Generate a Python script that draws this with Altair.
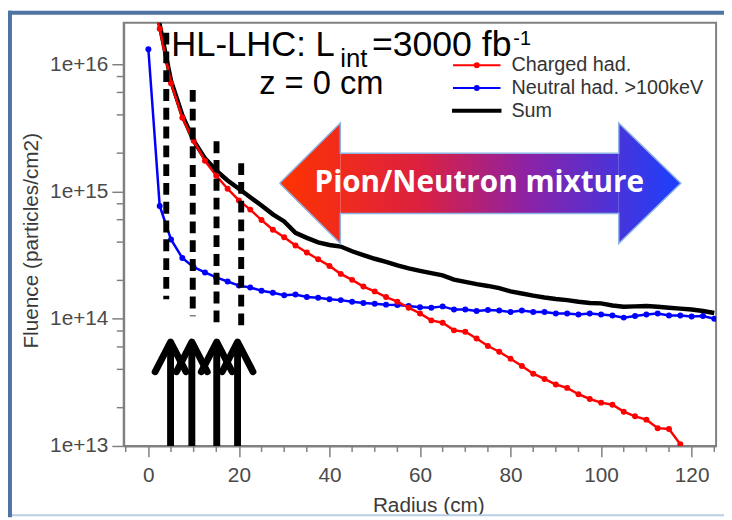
import altair as alt
import pandas as pd

# ---------------- data ----------------
radius = [0, 2.5, 5, 7.5, 10, 12.5, 15, 17.5, 20, 22.5,
          25, 27.5, 30, 32.5, 35, 37.5, 40, 42.5, 45, 47.5,
          50, 52.5, 55, 57.5, 60, 62.5, 65, 67.5, 70, 72.5,
          75, 77.5, 80, 82.5, 85, 87.5, 90, 92.5, 95, 97.5,
          100, 102.5, 105, 107.5, 110, 112.5, 115, 117.5, 120, 122.5, 125]

charged = [4.5e16, 1.9e16, 7.1e15, 3.8e15, 2.5e15, 1.74e15, 1.33e15, 1.05e15, 8.5e14, 7.2e14,
           5.96e14, 5.0e14, 4.37e14, 3.76e14, 3.31e14, 2.93e14, 2.6e14, 2.25e14, 2.02e14, 1.79e14,
           1.64e14, 1.48e14, 1.36e14, 1.22e14, 1.10e14, 9.7e13, 9.3e13, 8.1e13, 7.9e13, 7.0e13,
           6.1e13, 5.5e13, 4.84e13, 4.25e13, 3.7e13, 3.36e13, 3.04e13, 2.86e13, 2.55e13, 2.34e13,
           2.19e13, 2.11e13, 1.86e13, 1.71e13, 1.61e13, 1.38e13, 1.36e13, 1.03e13, 6.0e12, 4.0e12,
           3.0e12]

neutral = [1.31e16, 7.7e14, 4.2e14, 3.0e14, 2.54e14, 2.31e14, 2.11e14, 1.96e14, 1.82e14, 1.76e14,
           1.66e14, 1.60e14, 1.53e14, 1.55e14, 1.48e14, 1.46e14, 1.42e14, 1.40e14, 1.36e14, 1.33e14,
           1.31e14, 1.29e14, 1.28e14, 1.26e14, 1.23e14, 1.22e14, 1.25e14, 1.18e14, 1.18e14, 1.15e14,
           1.17e14, 1.16e14, 1.13e14, 1.16e14, 1.13e14, 1.13e14, 1.10e14, 1.10e14, 1.08e14, 1.10e14,
           1.08e14, 1.06e14, 1.02e14, 1.05e14, 1.08e14, 1.10e14, 1.06e14, 1.06e14, 1.04e14, 1.05e14,
           1.0e14]

total = [5.25e16, 2.04e16, 7.41e15, 3.98e15, 2.51e15, 1.82e15, 1.46e15, 1.22e15, 1.05e15, 9.02e14,
         7.76e14, 6.61e14, 5.82e14, 4.73e14, 4.32e14, 3.98e14, 3.80e14, 3.69e14, 3.39e14, 3.16e14,
         2.96e14, 2.80e14, 2.63e14, 2.49e14, 2.38e14, 2.28e14, 2.19e14, 2.03e14, 1.95e14, 1.87e14,
         1.81e14, 1.74e14, 1.64e14, 1.58e14, 1.52e14, 1.47e14, 1.43e14, 1.40e14, 1.36e14, 1.33e14,
         1.32e14, 1.27e14, 1.24e14, 1.25e14, 1.26e14, 1.24e14, 1.22e14, 1.20e14, 1.18e14, 1.15e14,
         1.11e14]

series_names = ["Charged had.", "Neutral had. >100keV", "Sum"]
series_colors = ["#ff0000", "#0000ff", "#000000"]
legend_shapes = ["M-2.4,0H2.4M-0.2,0A0.2,0.2,0,1,0,0.2,0A0.2,0.2,0,1,0,-0.2,0",
                 "M-2.4,0H2.4M-0.2,0A0.2,0.2,0,1,0,0.2,0A0.2,0.2,0,1,0,-0.2,0",
                 "M-2.4,-0.1H2.4V0.1H-2.4Z"]

x_ticks_major = [0, 20, 40, 60, 80, 100, 120]
x_ticks_minor = [-5, 5, 10, 15, 25, 30, 35, 45, 50, 55, 65, 70, 75,
                 85, 90, 95, 105, 110, 115, 125]
y_ticks_major = [1e13, 1e14, 1e15, 1e16]
y_ticks_minor = [2e13, 4e13, 6e13, 8e13, 2e14, 4e14, 6e14, 8e14,
                 2e15, 4e15, 6e15, 8e15]

# dashed vertical markers
dash_x = [3.95, 9.8, 15.05, 20.5]
dash_top = [1.77e16, 6.28e15, 2.48e15, 1.67e15]
dash_bottom = [1.42e14, 1.045e14, 8.9e13, 8.9e13]

# upward arrows
up_x = [4.9, 9.6, 15.1, 19.7]
up_tip = 6.56e13
up_wing = 3.83e13
up_half = 3.4
up_base = 1e13

# big double arrow (tip, head base, shaft)
band_tip_x = [29.0, 117.6]
band_head_x = [42.4, 103.9]
band_center = 1.16e15
band_head_top = 3.45e15
band_head_bottom = 3.9e14
band_shaft_top = 2.0e15
band_shaft_bottom = 6.7e14
band_text = "Pion/Neutron mixture"
band_text_x = [73.1]
band_text_y = [1.16e15]

# ---------------- tables ----------------
def series_df(vals):
    return pd.DataFrame({"radius": radius, "fluence": vals})

dash_df = pd.DataFrame({"radius": dash_x, "fluence": dash_top, "fluence2": dash_bottom})
shaft_df = pd.DataFrame({"radius": up_x, "fluence": [up_tip] * 4, "fluence2": [up_base] * 4})
head_rows = []
for i, x in enumerate(up_x):
    head_rows += [{"id": i, "k": 0, "radius": x - up_half, "fluence": up_wing},
                  {"id": i, "k": 1, "radius": x, "fluence": up_tip},
                  {"id": i, "k": 2, "radius": x + up_half, "fluence": up_wing}]
head_df = pd.DataFrame(head_rows)

lhead_df = pd.DataFrame({"radius": [band_tip_x[0], band_head_x[0]],
                         "fluence": [band_center, band_head_top],
                         "fluence2": [band_center, band_head_bottom]})
rhead_df = pd.DataFrame({"radius": [band_head_x[1], band_tip_x[1]],
                         "fluence": [band_head_top, band_center],
                         "fluence2": [band_head_bottom, band_center]})
shaft_band_df = pd.DataFrame({"radius": [band_head_x[0]], "radius2": [band_head_x[1]],
                              "fluence": [band_shaft_top], "fluence2": [band_shaft_bottom]})
outline_x = [band_tip_x[0], band_head_x[0], band_head_x[0], band_head_x[1], band_head_x[1],
             band_tip_x[1], band_head_x[1], band_head_x[1], band_head_x[0], band_head_x[0],
             band_tip_x[0]]
outline_y = [band_center, band_head_top, band_shaft_top, band_shaft_top, band_head_top,
             band_center, band_head_bottom, band_shaft_bottom, band_shaft_bottom,
             band_head_bottom, band_center]
outline_df = pd.DataFrame({"k": list(range(len(outline_x))), "radius": outline_x,
                           "fluence": outline_y})
band_text_df = pd.DataFrame({"radius": band_text_x, "fluence": band_text_y, "t": [band_text]})
legend_df = pd.DataFrame({"series": series_names})
one = pd.DataFrame({"k": [0]})
xminor_df = pd.DataFrame({"radius": x_ticks_minor})
yminor_df = pd.DataFrame({"fluence": y_ticks_minor})

# ---------------- scales / axes ----------------
FONT = "Liberation Sans"
xscale = alt.Scale(domain=[-5.45, 125.4], nice=False, zero=False)
yscale = alt.Scale(type="log", domain=[1e13, 2.12e16], nice=False)

x_axis = alt.Axis(
    values=x_ticks_major, title="Radius (cm)", tickSize=11,
    labelOverlap=False, labelFlush=False, labelPadding=8,
    labelFont=FONT, labelFontSize=21, labelColor="#4a4a4a",
    titleFont=FONT, titleFontSize=21, titleFontWeight="normal", titleColor="#3a3a3a",
    titleX=308, titleY=66, titleBaseline="alphabetic",
    domainColor="#808080", domainWidth=2, tickColor="#808080", tickWidth=1.5, grid=False)

y_axis = alt.Axis(
    values=y_ticks_major, title="Fluence (particles/cm2)", format=".0e", tickSize=12,
    labelOverlap=False, labelFlush=False, labelPadding=4,
    labelFont=FONT, labelFontSize=21, labelColor="#4a4a4a",
    titleFont=FONT, titleFontSize=21, titleFontWeight="normal", titleColor="#3a3a3a",
    titleX=-87, titleY=220, titleAngle=-90, titleBaseline="alphabetic",
    domainColor="#808080", domainWidth=2, tickColor="#808080", tickWidth=1.5, grid=False)

X = alt.X("radius:Q", scale=xscale, axis=x_axis)
Y = alt.Y("fluence:Q", scale=yscale, axis=y_axis)

color_scale = alt.Scale(domain=series_names, range=series_colors)
shape_scale = alt.Scale(domain=series_names, range=legend_shapes)
leg = alt.Legend(title=None, orient="none", legendX=346, legendY=32, direction="vertical",
                 labelFont=FONT, labelFontSize=20, labelColor="#333333", labelOffset=24,
                 labelLimit=500, symbolSize=400, symbolStrokeWidth=2, symbolOpacity=1,
                 rowPadding=2, padding=0)

# ---------------- layers ----------------
sum_line = alt.Chart(series_df(total)).mark_line(
    strokeWidth=4.5, clip=True, color="#000000").encode(x=X, y=Y)

def had_line(vals, c):
    return alt.Chart(series_df(vals)).mark_line(
        strokeWidth=2.5, clip=True, color=c,
        point=alt.OverlayMarkDef(filled=True, size=36, clip=True, color=c)).encode(x=X, y=Y)

neutral_line = had_line(neutral, "#0000ff")
charged_line = had_line(charged, "#ff0000")

legend_layer = alt.Chart(legend_df).transform_filter("false").mark_point(filled=False).encode(
    color=alt.Color("series:N", scale=color_scale, legend=leg),
    shape=alt.Shape("series:N", scale=shape_scale, legend=leg))

xminor = alt.Chart(xminor_df).mark_rule(color="#808080", strokeWidth=1.5).encode(
    x=X, y=alt.value(428), y2=alt.value(434))
yminor = alt.Chart(yminor_df).mark_rule(color="#808080", strokeWidth=1.5).encode(
    y=Y, x=alt.value(-7), x2=alt.value(0))

dashes = alt.Chart(dash_df).mark_rule(strokeWidth=6, strokeDash=[12, 7], color="black").encode(
    x=X, y=Y, y2="fluence2:Q")

shafts = alt.Chart(shaft_df).mark_rule(strokeWidth=7, color="black").encode(
    x=X, y=Y, y2="fluence2:Q")

heads = alt.Chart(head_df).mark_line(strokeWidth=7, color="black", strokeCap="round",
                                     strokeJoin="round").encode(
    x=X, y=Y, detail="id:N", order="k:Q")

def grad(c0, c1, mid=None):
    stops = [alt.GradientStop(color=c0, offset=0)]
    if mid:
        stops += [alt.GradientStop(color=c, offset=o) for c, o in mid]
    stops.append(alt.GradientStop(color=c1, offset=1))
    return alt.LinearGradient(gradient="linear", x1=0, x2=1, y1=0.5, y2=0.5, stops=stops)

lhead = alt.Chart(lhead_df).mark_area(fill=grad("#ff3300", "#f02b1c"), strokeWidth=0).encode(
    x=X, y=Y, y2="fluence2:Q")
rhead = alt.Chart(rhead_df).mark_area(fill=grad("#4834db", "#1a40ff"), strokeWidth=0).encode(
    x=X, y=Y, y2="fluence2:Q")
shaft_band = alt.Chart(shaft_band_df).mark_rect(
    fill=grad("#f02b1c", "#4834db", [("#dc2040", 0.287), ("#8c22a6", 0.676)]),
    strokeWidth=0).encode(x=X, x2="radius2:Q", y=Y, y2="fluence2:Q")
outline = alt.Chart(outline_df).mark_line(color="#8db3e2", strokeWidth=1.5).encode(
    x=X, y=Y, order="k:Q")

band_label = alt.Chart(band_text_df).mark_text(
    font="Open Sans", fontSize=30, fontWeight="bold", color="white",
    align="center", baseline="middle").encode(x=X, y=Y, text="t:N")

def txt(s, x, y, size):
    return alt.Chart(one).mark_text(text=s, font=FONT, fontSize=size, color="black",
                                    align="left", baseline="alphabetic").encode(
        x=alt.value(x), y=alt.value(y))

titles = [txt("HL-LHC: L", 48, 34, 35), txt("int", 219, 45, 26),
          txt("=3000 fb", 251, 34, 36), txt("-1", 394, 23, 20),
          txt("z = 0 cm", 137, 72, 33)]

def deco(x1, x2, y1, y2, c):
    return alt.Chart(one).mark_rect(color=c).encode(
        x=alt.value(x1), x2=alt.value(x2), y=alt.value(y1), y2=alt.value(y2))

decos = [deco(-117, -113, -12, 500, "#4e74a3"), deco(-117, 607, -12, -8, "#4e74a3"),
         deco(-113, 607, 497, 499, "#b9cde5")]

chart = alt.layer(
    *decos, xminor, yminor, sum_line, neutral_line, charged_line, legend_layer,
    lhead, shaft_band, rhead, outline, band_label, dashes, shafts, heads, *titles
).properties(
    width=599, height=428,
    padding={"left": 117, "top": 12, "right": 8, "bottom": 72},
    autosize=alt.AutoSizeParams(type="none"),
    background="white",
).configure_view(stroke="#808080", strokeWidth=2)

chart.save("out.html", embed_options={"renderer": "svg", "actions": False})
